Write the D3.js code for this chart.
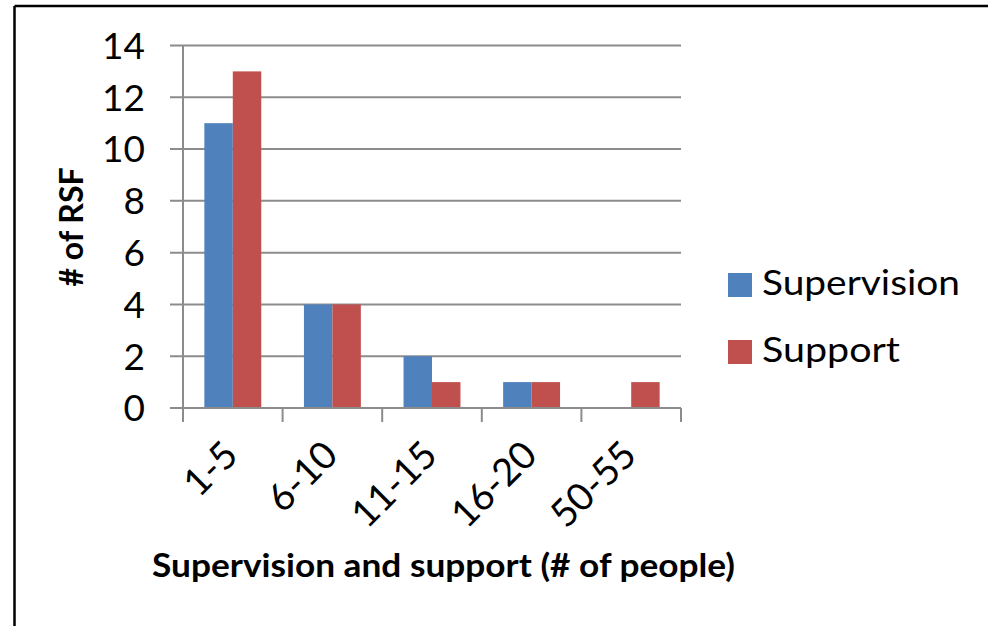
<!DOCTYPE html>
<html>
<head>
<meta charset="utf-8">
<script src="https://cdn.jsdelivr.net/npm/d3@7"></script>
<style>
  html, body { margin: 0; padding: 0; background: #fff; }
  svg { display: block; }
</style>
</head>
<body>
<svg id="chart" width="988" height="626"></svg>
<script>
// Group sizes (number of people) and counts of RSF per group
const categories = ["1-5", "6-10", "11-15", "16-20", "50-55"];
const seriesNames = ["Supervision", "Support"];
const supervision = [11, 4, 2, 1, 0];
const support = [13, 4, 1, 1, 1];
const yTicks = [0, 2, 4, 6, 8, 10, 12, 14];
const colors = ["#4F81BD", "#C0504D"];

const series = [supervision, support];
const FONT = "Lato, 'Open Sans', 'Liberation Sans', sans-serif";

const svg = d3.select("#chart");

// Outer frame (top and left edges visible)
svg.append("line").attr("x1", 14.5).attr("x2", 988).attr("y1", 6).attr("y2", 6)
  .attr("stroke", "#000").attr("stroke-width", 2.5);
svg.append("line").attr("x1", 14.5).attr("x2", 14.5).attr("y1", 6).attr("y2", 626)
  .attr("stroke", "#000").attr("stroke-width", 2.5);

const plot = { left: 183, right: 681, top: 45.5, bottom: 408 };

const x = d3.scaleBand().domain(categories).range([plot.left, plot.right]).padding(0);
const xInner = d3.scaleBand().domain(seriesNames).range([0, x.bandwidth()]).paddingInner(0).paddingOuter(0.75);
const y = d3.scaleLinear().domain([0, 14]).range([plot.bottom, plot.top]);

const gridColor = "#8C8C8C";

// Horizontal gridlines, extending slightly left of the axis as tick marks
svg.append("g").selectAll("line").data(yTicks).join("line")
  .attr("x1", plot.left - 13).attr("x2", plot.right)
  .attr("y1", d => y(d)).attr("y2", d => y(d))
  .attr("stroke", gridColor).attr("stroke-width", 2);

// Y axis line
svg.append("line").attr("x1", plot.left).attr("x2", plot.left)
  .attr("y1", plot.top).attr("y2", plot.bottom)
  .attr("stroke", gridColor).attr("stroke-width", 2);

// Y tick labels
svg.append("g").selectAll("text").data(yTicks).join("text")
  .attr("x", plot.left - 38).attr("y", d => y(d))
  .attr("dy", "0.36em").attr("text-anchor", "end")
  .attr("font-family", FONT).attr("font-size", 37).attr("fill", "#000")
  .text(d => d);

// Bars
const groups = svg.append("g").selectAll("g").data(categories).join("g")
  .attr("transform", d => `translate(${x(d)},0)`);
groups.selectAll("rect")
  .data((c, i) => series.map((s, k) => ({ name: seriesNames[k], value: s[i], k })))
  .join("rect")
  .attr("x", d => xInner(d.name))
  .attr("width", xInner.bandwidth())
  .attr("y", d => y(d.value))
  .attr("height", d => y(0) - y(d.value))
  .attr("fill", d => colors[d.k]);

// X axis line and tick marks between categories
svg.append("line").attr("x1", plot.left - 13).attr("x2", plot.right)
  .attr("y1", plot.bottom).attr("y2", plot.bottom)
  .attr("stroke", gridColor).attr("stroke-width", 2);
const xTickPos = categories.map(c => x(c)).concat([plot.right]);
svg.append("g").selectAll("line").data(xTickPos).join("line")
  .attr("x1", d => d).attr("x2", d => d)
  .attr("y1", plot.bottom).attr("y2", plot.bottom + 14)
  .attr("stroke", gridColor).attr("stroke-width", 2);

// Rotated category labels
svg.append("g").selectAll("text").data(categories).join("text")
  .attr("transform", d => `translate(${x(d) + x.bandwidth() / 2 - 2},${plot.bottom + 40}) rotate(-45)`)
  .attr("text-anchor", "end").attr("dy", "0.35em")
  .attr("font-family", FONT).attr("font-size", 38).attr("fill", "#000")
  .text(d => d);

// Axis titles
svg.append("text")
  .attr("x", 443.5).attr("y", 577).attr("text-anchor", "middle")
  .attr("font-family", FONT).attr("font-weight", "bold").attr("font-size", 33)
  .attr("textLength", 583).attr("lengthAdjust", "spacingAndGlyphs")
  .text("Supervision and support (# of people)");
svg.append("text")
  .attr("transform", "translate(83,227) rotate(-90)")
  .attr("text-anchor", "middle")
  .attr("font-family", FONT).attr("font-weight", "bold").attr("font-size", 32)
  .text("# of RSF");

// Legend
const legend = svg.append("g").selectAll("g").data(seriesNames).join("g")
  .attr("transform", (d, i) => `translate(728,${273 + i * 67})`);
legend.append("rect").attr("width", 24).attr("height", 24).attr("fill", (d, i) => colors[i]);
legend.append("text").attr("x", 34).attr("y", 22)
  .attr("font-family", FONT).attr("font-size", 35).attr("fill", "#000")
  .attr("textLength", (d, i) => i === 0 ? 198 : 138).attr("lengthAdjust", "spacingAndGlyphs")
  .text(d => d);
</script>
</body>
</html>
